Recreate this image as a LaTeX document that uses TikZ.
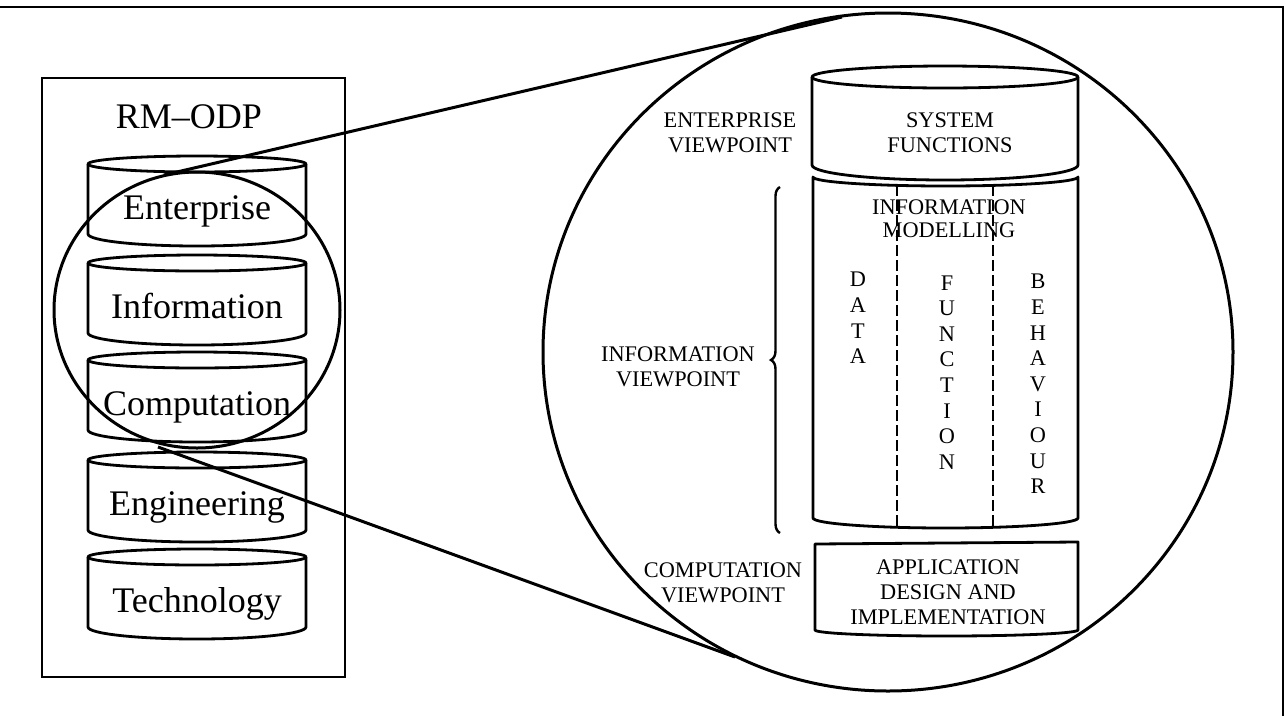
\documentclass[tikz,border=0pt]{standalone}
\usepackage{fontspec}
\setmainfont{Liberation Serif}
\usetikzlibrary{decorations.pathreplacing}

\begin{document}
\begin{tikzpicture}[x=1pt,y=-1pt,
  frame/.style={line width=2.6pt},
  panel/.style={line width=2.4pt},
  layer/.style={line width=2.8pt, line join=round},
  loupe/.style={line width=3pt},
  ray/.style={line width=3pt},
  divider/.style={line width=2.6pt, dash pattern=on 11pt off 4pt},
  bigword/.style={font=\fontsize{36}{40}\selectfont, inner sep=0pt, anchor=base},
  caption/.style={font=\fontsize{22.3}{25}\selectfont, align=center, inner sep=0pt},
  tightcap/.style={font=\fontsize{22.3}{23}\selectfont, align=center, inner sep=0pt},
  column/.style={font=\fontsize{22.3}{25.6}\selectfont, align=center, inner sep=0pt}
]
\useasboundingbox (0,0) rectangle (1286,716);

% outer frame: top and right edges
\draw[frame] (0,7) -- (1283,7) -- (1283,716);

% RM-ODP panel
\draw[panel] (42,78) rectangle (345,677);
\node[bigword] (title) at (189,128) {RM--ODP};

% the five viewpoint disks
\foreach \yt/\name/\word in {164/ent/Enterprise, 263/inf/Information,
    360/cmp/Computation, 460/eng/Engineering, 557/tec/Technology} {
  \draw[layer] (197,\yt) ellipse [x radius=109, y radius=8];
  \draw[layer] (88,\yt) -- (88,\yt+70)
     arc[start angle=180, end angle=0, x radius=109, y radius=12] -- (306,\yt);
  \node[bigword] (\name) at (197,\yt+55) {\word};
}

% magnifying circles
\draw[loupe] (197,310) ellipse [x radius=143, y radius=138];
\draw[loupe] (888,352) ellipse [x radius=345, y radius=339];

% rays joining the two circles
\coordinate (lensTop) at (164,175);
\coordinate (zoomTop) at (842,17);
\coordinate (lensBot) at (158,447);
\coordinate (zoomBot) at (735,657);
\draw[ray] (lensTop) -- (zoomTop);
\draw[ray] (lensBot) -- (zoomBot);

% system functions cylinder
\draw[layer] (945,77) ellipse [x radius=133, y radius=11];
\draw[layer] (812,77) -- (812,165)
   arc[start angle=180, end angle=0, x radius=133, y radius=15] -- (1078,77);

% information modelling block
\draw[layer] (813,177) arc[start angle=180, end angle=0, x radius=132.5, y radius=9]
   -- (1078,518) arc[start angle=0, end angle=180, x radius=132.5, y radius=10] -- cycle;
\draw[divider] (897,185) -- (897,527);
\draw[divider] (993,185) -- (993,527);

% application block
\draw[layer] (815,544) -- (1078,542) -- (1078,630)
   arc[start angle=0, end angle=180, x radius=131.5, y radius=6] -- cycle;

% brace grouping the information viewpoint
\draw[line width=2.4pt, decorate, decoration={brace, amplitude=9pt}] (780,533) -- (780,187);

% viewpoint captions
\node[caption] (entvp) at (730,132.7) {ENTERPRISE\\VIEWPOINT};
\node[caption] (infvp) at (678,367.2) {INFORMATION\\VIEWPOINT};
\node[caption] (cmpvp) at (723,583.2) {COMPUTATION\\VIEWPOINT};

% block contents
\node[caption] (sysfn) at (950,133.2) {SYSTEM\\FUNCTIONS};
\node[tightcap] (infmod) at (949,219.2) {INFORMATION\\MODELLING};
\node[caption] (appdes) at (948,592.7) {APPLICATION\\DESIGN AND\\IMPLEMENTATION};
\node[column] (data) at (858,318) {D\\A\\T\\A};
\node[column] (func) at (947,372.3) {F\\U\\N\\C\\T\\I\\O\\N};
\node[column] (behav) at (1038,384) {B\\E\\H\\A\\V\\I\\O\\U\\R};
\end{tikzpicture}
\end{document}
